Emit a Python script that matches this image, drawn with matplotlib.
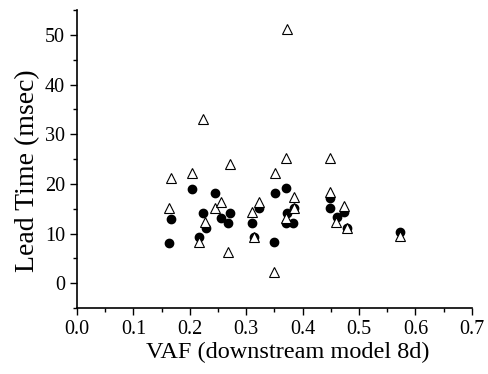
import numpy as np
import matplotlib
matplotlib.use('Agg')
import matplotlib.pyplot as plt
from matplotlib.ticker import MultipleLocator

plt.rcParams['font.family'] = 'Liberation Serif'

# lead time vs VAF, two measures per cell (open triangles, filled circles)
vaf_tri = [0.163, 0.166, 0.204, 0.223, 0.216, 0.227, 0.245, 0.255, 0.267, 0.271,
           0.310, 0.314, 0.322, 0.350, 0.351, 0.370, 0.372, 0.370, 0.384, 0.385,
           0.449, 0.449, 0.459, 0.474, 0.479, 0.573]
lead_tri = [15.1, 21.1, 22.1, 33.1, 8.3, 12.3, 15.1, 16.3, 6.3, 24.1,
            14.3, 9.3, 16.3, 2.3, 22.1, 25.3, 51.1, 13.2, 15.1, 17.3,
            25.3, 18.4, 12.4, 15.6, 11.2, 9.5]

vaf_dot = [0.163, 0.166, 0.204, 0.216, 0.223, 0.228, 0.245, 0.255, 0.267, 0.271,
           0.310, 0.314, 0.322, 0.350, 0.351, 0.370, 0.373, 0.370, 0.382, 0.384,
           0.449, 0.449, 0.460, 0.474, 0.479, 0.573]
lead_dot = [8.1, 13.0, 19.0, 9.2, 14.1, 11.1, 18.1, 13.1, 12.1, 14.1,
            12.1, 9.2, 15.1, 8.2, 18.1, 19.1, 14.1, 12.2, 12.2, 15.1,
            17.2, 15.1, 13.3, 14.4, 11.2, 10.4]

fig = plt.figure(figsize=(4.89, 3.74), dpi=100)
ax = fig.add_axes([0.1575, 0.1765, 0.8075, 0.7965])

ax.plot(vaf_dot, lead_dot, 'o', ms=6, color='black', zorder=3)
ax.plot(vaf_tri, lead_tri, '^', ms=6.5, mfc='white', mec='black', mew=0.8, zorder=4)

ax.set_xlim(0, 0.7)
ax.set_ylim(-5, 55)
ax.xaxis.set_major_locator(MultipleLocator(0.1))
ax.xaxis.set_minor_locator(MultipleLocator(0.05))
ax.yaxis.set_major_locator(MultipleLocator(10))
ax.yaxis.set_minor_locator(MultipleLocator(5))
ax.set_xticklabels([f'{v:.1f}' for v in ax.get_xticks()])

ax.spines['top'].set_visible(False)
ax.spines['right'].set_visible(False)
ax.spines['left'].set_linewidth(1.2)
ax.spines['bottom'].set_linewidth(1.2)
ax.tick_params(which='major', direction='out', length=5, width=1, labelsize=14.5)
ax.tick_params(which='minor', direction='out', length=3, width=1)

ax.set_xlabel('VAF (downstream model 8d)', fontsize=17.5, va='center', ha='center')
ax.set_ylabel('Lead Time (msec)', fontsize=20, va='center', ha='center')
ax.xaxis.set_label_coords(0.533, -0.148)
ax.yaxis.set_label_coords(-0.124, 0.46)

fig.savefig('out.png', dpi=100)
